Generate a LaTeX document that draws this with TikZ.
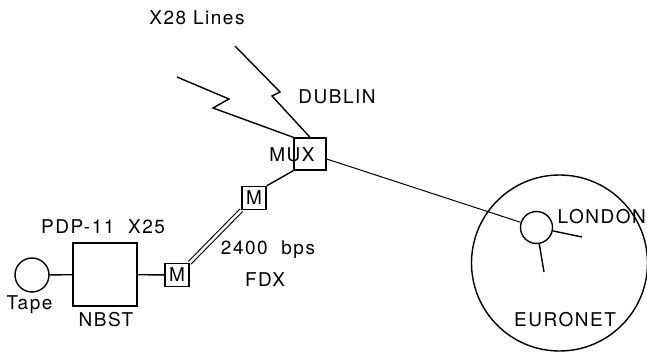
\documentclass[tikz,border=0pt]{standalone}
\usepackage{fontspec}
\setmainfont{TeX Gyre Heros}[LetterSpace=8]
\usepackage{tikz}
\usetikzlibrary{positioning}

\begin{document}
\begin{tikzpicture}[
    x=1pt, y=-1pt,
    line width=1.4pt,
    lbl/.style={font=\fontsize{19}{22}\selectfont, inner sep=0pt},
    site/.style={circle, draw, minimum size=34pt, inner sep=0pt},
    modem/.style={rectangle, draw, minimum width=24pt, minimum height=23pt,
                  inner sep=0pt, font=\fontsize{19}{20}\selectfont},
    link/.style={line width=1.4pt},
]
    \useasboundingbox (0,0) rectangle (647,355);

    % nodes
    \node[site] (tape) at (32,275) {};
    \node[rectangle, draw, minimum width=64pt, minimum height=63pt] (nbst) at (105,274.5) {};
    \node[modem] (mlow) at (177,275) {M};
    \node[modem] (mhigh) at (254,198) {M};
    \node[rectangle, draw, minimum width=32pt, minimum height=32pt] (mux) at (310,154) {};
    \node[circle, draw, minimum size=176pt, inner sep=0pt] (euronet) at (559.5,263) {};
    \node[site, minimum size=32pt] (london) at (536.5,227.5) {};

    % labels
    \node[lbl] (x28) at (197,18) {X28 Lines};
    \node[lbl] (dublin) at (337,97) {DUBLIN};
    \node[lbl] (muxlbl) at (292,155) {MUX};
    \node[lbl] (pdp) at (103,227) {PDP-11\ \ X25};
    \node[lbl] (tapelbl) at (29.5,305) {Tape};
    \node[lbl] (nbstlbl) at (106,320) {NBST};
    \node[lbl] (bps) at (268,250) {2400\ \ bps};
    \node[lbl] (fdx) at (265,280) {FDX};
    \node[lbl, anchor=west] (londonlbl) at (557,217) {LONDON};
    \node[lbl] (euronetlbl) at (565,320) {EURONET};

    % x28 line ends
    \coordinate (za) at (235,46);
    \coordinate (zb) at (280,92);
    \coordinate (zc) at (272,96);
    \coordinate (ya) at (177,77);
    \coordinate (yb) at (229,99);
    \coordinate (yc) at (213,108);
    \coordinate (stubr) at (582,237);
    \coordinate (stubd) at (544,272);

    % connections
    \draw[link] (tape) -- (nbst);
    \draw[link] (nbst) -- (mlow);
    \draw[link, double, double distance=2.5pt, line width=1.1pt] (mlow.north east) -- (mhigh.south west);
    \draw[link] (mhigh.north east) -- (mux.south west);
    \draw[link] (za) -- (zb) -- (zc) -- (mux.north);
    \draw[link] (ya) -- (yb) -- (yc) -- (mux.north west);
    \draw[line width=1pt] ([yshift=-5pt]mux.east) -- (london);
    \draw[link] (london) -- (stubr);
    \draw[link] (london) -- (stubd);
\end{tikzpicture}
\end{document}
